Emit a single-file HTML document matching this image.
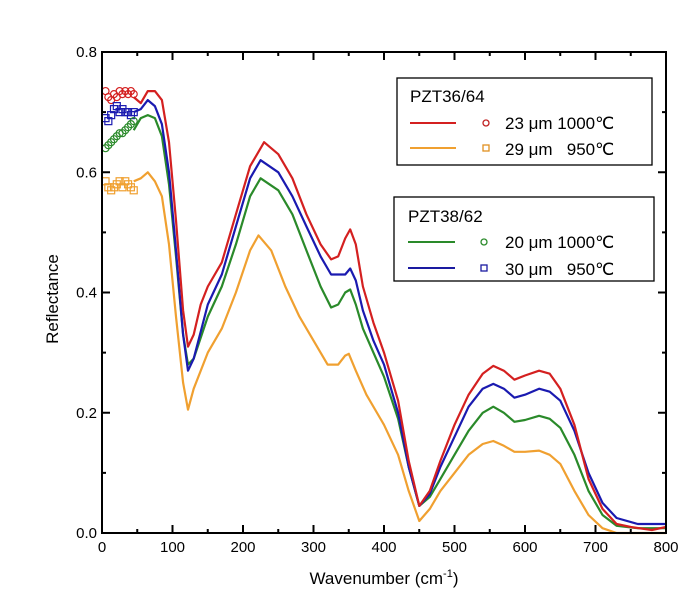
<!DOCTYPE html>
<html><head><meta charset="utf-8">
<style>
html,body{margin:0;padding:0;background:#fff;}
svg{display:block;font-family:"Liberation Sans",sans-serif;}
</style></head>
<body>
<svg id="chart" width="700" height="604" viewBox="0 0 700 604">
<g id="plot"></g>
<g id="axes"></g>
<g>
<rect x="397" y="78" width="255" height="87" fill="#fff" stroke="#000" stroke-width="1.3"/>
<text x="410" y="102" font-size="17">PZT36/64</text>
<line x1="410" y1="123" x2="456" y2="123" stroke="#d42020" stroke-width="2"/>
<circle cx="486" cy="123" r="3" fill="none" stroke="#c02020" stroke-width="1.3"/>
<text x="505" y="129" font-size="17">23 μm 1000℃</text>
<line x1="410" y1="148" x2="456" y2="148" stroke="#f0a030" stroke-width="2"/>
<rect x="483" y="145" width="6" height="6" fill="none" stroke="#e09020" stroke-width="1.3"/>
<text x="505" y="155" font-size="17">29 μm &#160;&#160;950℃</text>
</g>
<g>
<rect x="394" y="197" width="260" height="84" fill="#fff" stroke="#000" stroke-width="1.3"/>
<text x="408" y="222" font-size="17">PZT38/62</text>
<line x1="408" y1="242" x2="455" y2="242" stroke="#2a8a2a" stroke-width="2"/>
<circle cx="484" cy="242" r="3" fill="none" stroke="#2a8a2a" stroke-width="1.3"/>
<text x="505" y="248" font-size="17">20 μm 1000℃</text>
<line x1="408" y1="268" x2="455" y2="268" stroke="#1a1aa0" stroke-width="2"/>
<rect x="481" y="265" width="6" height="6" fill="none" stroke="#1a1aa0" stroke-width="1.3"/>
<text x="505" y="275" font-size="17">30 μm &#160;&#160;950℃</text>
</g>
<text x="384" y="584" font-size="17" text-anchor="middle">Wavenumber (cm<tspan dy="-7" font-size="11">-1</tspan><tspan dy="7">)</tspan></text>
<text x="0" y="0" font-size="17" text-anchor="middle" transform="translate(58,299) rotate(-90)">Reflectance</text>
</svg>
<script>
const xTicks=[0,100,200,300,400,500,600,700,800];
const yTicks=[0.0,0.2,0.4,0.6,0.8];
const yTickLabels=["0.0","0.2","0.4","0.6","0.8"];
const wnRed=[45,55,65,75,85,95,105,115,122,130,140,150,170,190,210,230,250,270,290,310,325,335,345,352,360,370,385,400,420,435,450,465,480,500,520,540,555,570,585,600,620,635,650,670,690,710,730,750,780,800];
const rRed=[0.725,0.715,0.735,0.735,0.72,0.65,0.52,0.37,0.31,0.33,0.38,0.41,0.45,0.53,0.61,0.65,0.63,0.59,0.53,0.48,0.455,0.46,0.49,0.505,0.48,0.41,0.35,0.30,0.22,0.12,0.045,0.07,0.12,0.18,0.23,0.265,0.278,0.27,0.255,0.262,0.27,0.265,0.24,0.18,0.09,0.04,0.015,0.01,0.005,0.01];
const wnStd=[45,55,65,75,85,95,105,115,122,130,150,170,190,210,225,250,270,290,310,325,335,345,352,360,370,385,400,420,435,450,465,480,500,520,540,555,570,585,600,620,635,650,670,690,710,730,760,800];
const rBlue=[0.70,0.705,0.72,0.71,0.68,0.60,0.47,0.33,0.27,0.29,0.38,0.43,0.51,0.59,0.62,0.60,0.56,0.51,0.46,0.43,0.43,0.43,0.44,0.42,0.37,0.32,0.28,0.20,0.11,0.045,0.065,0.11,0.16,0.21,0.24,0.248,0.24,0.225,0.23,0.24,0.235,0.22,0.17,0.10,0.05,0.025,0.015,0.015];
const rGreen=[0.67,0.69,0.695,0.69,0.66,0.58,0.46,0.33,0.28,0.29,0.36,0.41,0.48,0.56,0.59,0.57,0.53,0.47,0.41,0.375,0.38,0.40,0.405,0.38,0.34,0.30,0.26,0.19,0.11,0.045,0.06,0.09,0.13,0.17,0.20,0.21,0.20,0.185,0.188,0.195,0.19,0.175,0.13,0.07,0.03,0.012,0.008,0.008];
const wnOrange=[45,55,65,75,85,95,105,115,122,130,150,170,190,210,222,240,260,280,300,320,335,345,350,360,375,400,420,435,450,465,480,500,520,540,555,570,585,600,620,635,650,670,690,710,730,800];
const rOrange=[0.585,0.59,0.60,0.585,0.56,0.48,0.36,0.25,0.205,0.24,0.30,0.34,0.40,0.47,0.495,0.47,0.41,0.36,0.32,0.28,0.28,0.295,0.298,0.27,0.23,0.18,0.13,0.07,0.02,0.04,0.07,0.10,0.13,0.148,0.153,0.145,0.135,0.135,0.137,0.13,0.115,0.07,0.03,0.008,0.0,0.0];
const mkWn=[5,9,13,17,21,25,29,33,37,41,45];
const mkRed=[0.735,0.725,0.72,0.73,0.725,0.735,0.73,0.735,0.73,0.735,0.73];
const mkBlue=[0.69,0.685,0.695,0.705,0.71,0.70,0.705,0.70,0.70,0.695,0.70];
const mkGreen=[0.64,0.645,0.65,0.655,0.66,0.665,0.665,0.67,0.675,0.68,0.685];
const mkOrange=[0.585,0.575,0.57,0.575,0.58,0.585,0.575,0.585,0.58,0.575,0.57];

const X0=102,X1=666,Y0=533,Y1=52;
function sx(v){return X0+(v-0)/(800-0)*(X1-X0);}
function sy(v){return Y0-(v-0)/(0.8-0)*(Y0-Y1);}
const NS="http://www.w3.org/2000/svg";
const plot=document.getElementById('plot'),axes=document.getElementById('axes');
function mk(tag,attrs,parent){const e=document.createElementNS(NS,tag);for(const k in attrs)e.setAttribute(k,attrs[k]);parent.appendChild(e);return e;}

function drawLine(xs,ys,color,name){
  let d='';xs.forEach((x,i)=>{d+=(i?'L':'M')+sx(x).toFixed(1)+','+sy(ys[i]).toFixed(1);});
  const p=mk('path',{d:d,fill:'none',stroke:color,'stroke-width':2.2,'stroke-linejoin':'round'},plot);
  
  
}
function drawMarkers(xs,ys,color,shape,name){
  xs.forEach((x,i)=>{
    let m;
    if(shape==='c') m=mk('circle',{cx:sx(x),cy:sy(ys[i]),r:3.5,fill:'none',stroke:color,'stroke-width':1.2},plot);
    else m=mk('rect',{x:sx(x)-3.5,y:sy(ys[i])-3.5,width:7,height:7,fill:'none',stroke:color,'stroke-width':1.2},plot);
    
    
  });
}
drawLine(wnOrange,rOrange,'#f0a030','series-29um-line');
drawLine(wnStd,rGreen,'#2a8a2a','series-20um-line');
drawLine(wnStd,rBlue,'#1a1ab0','series-30um-line');
drawLine(wnRed,rRed,'#d42020','series-23um-line');
drawMarkers(mkWn,mkRed,'#d42020','c','marker-23um');
drawMarkers(mkWn,mkBlue,'#1a1ab0','s','marker-30um');
drawMarkers(mkWn,mkGreen,'#2a8a2a','c','marker-20um');
drawMarkers(mkWn,mkOrange,'#f0a030','s','marker-29um');

const frame=mk('rect',{x:X0,y:Y1,width:X1-X0,height:Y0-Y1,fill:'none',stroke:'#000','stroke-width':2},axes);


xTicks.forEach((t,i)=>{
  const x=sx(t);
  mk('line',{x1:x,y1:Y0,x2:x,y2:Y0-8,stroke:'#000','stroke-width':2},axes);
  mk('line',{x1:x,y1:Y1,x2:x,y2:Y1+8,stroke:'#000','stroke-width':2},axes);
  if(i<xTicks.length-1){const xm=sx(t+50);
    mk('line',{x1:xm,y1:Y0,x2:xm,y2:Y0-4,stroke:'#000','stroke-width':2},axes);
    mk('line',{x1:xm,y1:Y1,x2:xm,y2:Y1+4,stroke:'#000','stroke-width':2},axes);}
  const tx=mk('text',{x:x,y:Y0+19,'font-size':15,'text-anchor':'middle'},axes);
  tx.textContent=String(t);
  
  
});
yTicks.forEach((t,i)=>{
  const y=sy(t);
  mk('line',{x1:X0,y1:y,x2:X0+8,y2:y,stroke:'#000','stroke-width':2},axes);
  mk('line',{x1:X1,y1:y,x2:X1-8,y2:y,stroke:'#000','stroke-width':2},axes);
  if(i<yTicks.length-1){const ym=sy(t+0.1);
    mk('line',{x1:X0,y1:ym,x2:X0+4,y2:ym,stroke:'#000','stroke-width':2},axes);
    mk('line',{x1:X1,y1:ym,x2:X1-4,y2:ym,stroke:'#000','stroke-width':2},axes);}
  const tx=mk('text',{x:X0-5,y:y+5,'font-size':15,'text-anchor':'end'},axes);
  tx.textContent=yTickLabels[i];
  
  
});
</script>
</body></html>
